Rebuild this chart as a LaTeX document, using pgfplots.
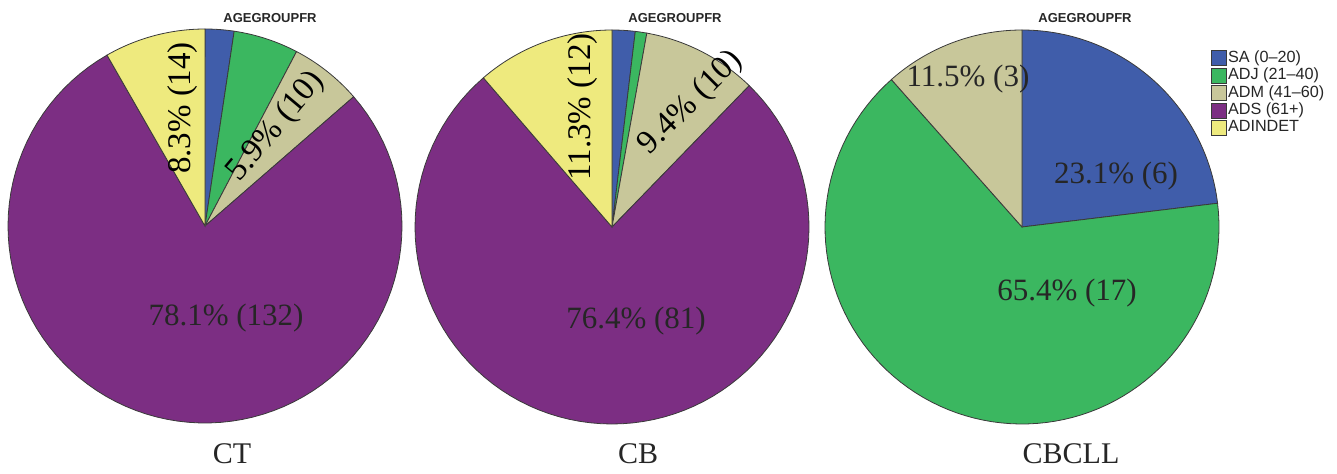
\documentclass[border=0pt]{standalone}
\usepackage{pgfplots}
\pgfplotsset{compat=1.18}
\usepackage{fontspec}
\setmainfont{Liberation Serif}
\setsansfont{Liberation Sans}
\definecolor{sa}{HTML}{405DAA}
\definecolor{adj}{HTML}{3BB760}
\definecolor{adm}{HTML}{C8C79A}
\definecolor{ads}{HTML}{7C2E83}
\definecolor{adi}{HTML}{EEEA7E}
\definecolor{edge}{HTML}{3A3A3A}
\definecolor{lab}{HTML}{262626}
% \slice[extra options]{cx}{cy}{cumulative count before}{cumulative count after}{total}{colour}
\newcommand\slice[7][]{%
  \pgfmathsetmacro\aS{#4/#6*360}%
  \pgfmathsetmacro\aE{#5/#6*360}%
  \edef\doslice{\noexpand\addplot[fill=#7, draw=edge, line width=0.4pt,
     domain=\aS:\aE, samples=90, #1]
     ({#2+197*sin(x)},{#3+197*cos(x)}) -- (axis cs:#2,#3) -- cycle;}%
  \doslice}
\begin{document}
\begin{tikzpicture}
\begin{axis}[
  width=668.5pt, height=236.5pt, scale only axis,
  xmin=0, xmax=1337, ymin=0, ymax=473,
  hide axis, clip=false,
  legend style={at={(axis cs:1211,424)}, anchor=north west, draw=none, fill=none,
    inner sep=0pt, font=\sffamily\fontsize{8.1}{8.5}\selectfont, text=lab,
    row sep=0.2pt, nodes={inner sep=0.6pt}},
  legend cell align=left,
  legend image code/.code={\draw[#1, line width=0.3pt] (0pt,-3.7pt) rectangle (7.4pt,3.7pt);},
]
\path (axis cs:0,0) rectangle (axis cs:1337,473);
% CT: SA 4, ADJ 9, ADM 10, ADS 132, ADINDET 14 (total 169)
\slice{205}{247}{0}{4}{169}{sa}     \addlegendentry{SA (0–20)}
\slice{205}{247}{4}{13}{169}{adj}   \addlegendentry{ADJ (21–40)}
\slice{205}{247}{13}{23}{169}{adm}  \addlegendentry{ADM (41–60)}
\slice{205}{247}{23}{155}{169}{ads} \addlegendentry{ADS (61+)}
\slice{205}{247}{155}{169}{169}{adi}\addlegendentry{ADINDET}
% CB: SA 2, ADJ 1, ADM 10, ADS 81, ADINDET 12 (total 106)
\slice[forget plot]{612}{246}{0}{2}{106}{sa}
\slice[forget plot]{612}{246}{2}{3}{106}{adj}
\slice[forget plot]{612}{246}{3}{13}{106}{adm}
\slice[forget plot]{612}{246}{13}{94}{106}{ads}
\slice[forget plot]{612}{246}{94}{106}{106}{adi}
% CBCLL: SA 6, ADJ 17, ADM 3 (total 26)
\slice[forget plot]{1022}{246}{0}{6}{26}{sa}
\slice[forget plot]{1022}{246}{6}{23}{26}{adj}
\slice[forget plot]{1022}{246}{23}{26}{26}{adm}
% titles
\begin{scope}[every node/.style={font=\sffamily\bfseries\fontsize{6.5}{7}\selectfont, text=lab}]
\node at (axis cs:270,455) {AGEGROUPFR};
\node at (axis cs:675,455) {AGEGROUPFR};
\node at (axis cs:1085,455) {AGEGROUPFR};
\end{scope}
% slice labels
\begin{scope}[every node/.style={font=\fontsize{15.5}{16}\selectfont, text=lab, inner sep=0pt}]
\node at (axis cs:226,155) {78.1\% (132)};
\node at (axis cs:636,152) {76.4\% (81)};
\node at (axis cs:1116,297) {23.1\% (6)};
\node at (axis cs:968,394) {11.5\% (3)};
\node at (axis cs:1067,180) {65.4\% (17)};
\end{scope}
\begin{scope}[every node/.style={font=\fontsize{16.5}{17}\selectfont, text=black, inner sep=0pt}]
\node[rotate=90] at (axis cs:183,365) {8.3\% (14)};
\node[rotate=50] at (axis cs:276,346) {5.9\% (10)};
\node[rotate=90] at (axis cs:583,366) {11.3\% (12)};
\node[rotate=45] at (axis cs:691,370) {9.4\% (10)};
\end{scope}
% group names
\begin{scope}[every node/.style={font=\fontsize{15}{16}\selectfont, text=lab}]
\node at (axis cs:232,19) {CT};
\node at (axis cs:638,19) {CB};
\node at (axis cs:1071,19) {CBCLL};
\end{scope}
\end{axis}
\end{tikzpicture}
\end{document}
